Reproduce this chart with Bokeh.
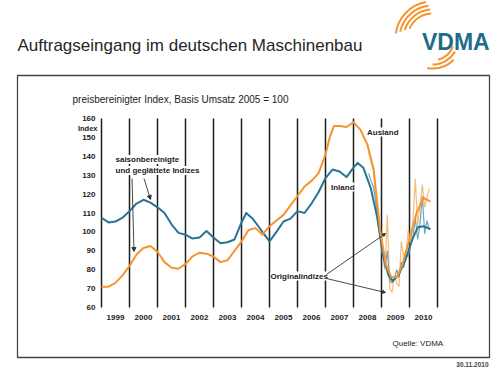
import numpy as np
from bokeh.plotting import figure
from bokeh.models import Range1d, FixedTicker, Label, Arrow, NormalHead
from bokeh.embed import file_html
from bokeh.resources import INLINE

# ---------------- data ----------------
year_labels = [str(y) for y in range(1999, 2011)]
year_edges = list(range(1999, 2012))
y_ticks = list(range(60, 161, 10))

# seasonally adjusted & smoothed indices (decimal years)
ausland_t = [1999.0, 1999.25, 1999.5, 1999.75, 2000.0, 2000.25, 2000.5, 2000.75,
             2001.0, 2001.25, 2001.5, 2001.75, 2002.0, 2002.25, 2002.5, 2002.75,
             2003.0, 2003.25, 2003.5, 2003.75, 2004.0, 2004.25, 2004.5, 2004.75,
             2005.0, 2005.25, 2005.5, 2005.75, 2006.0, 2006.25, 2006.5, 2006.75,
             2007.0, 2007.15, 2007.3, 2007.5, 2007.75, 2008.0, 2008.25, 2008.5, 2008.72,
             2008.95, 2009.15, 2009.35, 2009.55, 2009.75, 2010.0, 2010.25, 2010.5, 2010.75]
ausland_v = [71, 71, 73, 77, 82, 88, 91.5, 92.5,
             89.5, 84, 81, 80.5, 83, 87, 89, 88.5,
             87, 84, 85, 90, 95, 101, 102, 98.5,
             103, 106, 109, 114, 119, 124, 127, 131,
             141, 150, 156, 156, 155.5, 158, 154, 146, 133,
             101, 83, 76, 76, 83, 96, 110, 118, 116]

inland_t = [1999.0, 1999.25, 1999.5, 1999.75, 2000.0, 2000.25, 2000.5, 2000.75,
            2001.0, 2001.25, 2001.5, 2001.75, 2002.0, 2002.25, 2002.5, 2002.75,
            2003.0, 2003.25, 2003.5, 2003.75, 2004.0, 2004.17, 2004.4, 2004.6,
            2004.8, 2005.0, 2005.25, 2005.5, 2005.75, 2006.0, 2006.25, 2006.5,
            2006.75, 2007.0, 2007.25, 2007.5, 2007.75, 2008.0, 2008.15, 2008.35,
            2008.62, 2008.85, 2009.05, 2009.25, 2009.4, 2009.6, 2009.85, 2010.1,
            2010.3, 2010.5, 2010.75]
inland_v = [107.5, 105, 105.5, 107.5, 111, 115, 117, 115.5,
            113, 110, 104, 99.5, 98.5, 96.5, 97, 100.5,
            97, 94, 94.5, 96, 105, 110, 107, 103,
            99, 95, 100, 105.5, 107, 111, 110, 115,
            121, 128.5, 133, 132, 129, 134, 136.5, 134,
            123, 107.5, 88, 77, 74, 77, 85, 96,
            102.5, 103, 101.5]

# original (unadjusted) monthly indices
orig_months = ["2008-07", "2008-08", "2008-09", "2008-10", "2008-11", "2008-12",
               "2009-01", "2009-02", "2009-03", "2009-04", "2009-05", "2009-06",
               "2009-07", "2009-08", "2009-09", "2009-10", "2009-11", "2009-12",
               "2010-01", "2010-02", "2010-03", "2010-04", "2010-05", "2010-06",
               "2010-07", "2010-08", "2010-09"]
ausland_orig = [142, 137, 133, 119, 104, 97, 87, 80, 109, 70, 68, 77,
                73, 71, 95, 87, 90, 101, 94, 106, 128, 103, 114, 125,
                113, 118, 123]
inland_orig = [131, 127, 124, 116, 106, 96, 88, 81, 90, 74, 73, 75,
               80, 76, 84, 81, 88, 87, 93, 98, 107, 96, 104, 119,
               99, 106, 101]

orig_t = [int(m[:4]) + (int(m[5:]) - 0.5) / 12 for m in orig_months]

# ---------------- styling ----------------
ORANGE = "#F5952C"
ORANGE_L = "#F8B466"
TEAL = "#287593"
TEAL_L = "#5F9CB5"
VDMA_TEAL = "#1E6C8A"
FONT = "Liberation Sans"

W, H = 500, 380
# data-area geometry on the canvas (pixels)
FR_LEFT, FR_BOTTOM = 101.0, 307.0
PX_YEAR, PX_UNIT = 28.0, 1.89


def dx(px):
    return year_edges[0] + (px - FR_LEFT) / PX_YEAR


def dy(py):
    return y_ticks[0] + (FR_BOTTOM - py) / PX_UNIT


p = figure(width=W, height=H, x_range=Range1d(dx(0), dx(W)), y_range=Range1d(dy(H), dy(0)),
           output_backend="svg", toolbar_location=None,
           min_border_left=0, min_border_right=0, min_border_top=0, min_border_bottom=0)
p.outline_line_color = None
p.background_fill_color = "white"
p.border_fill_color = "white"
p.xgrid.grid_line_color = None
p.ygrid.grid_line_color = None

# axes pinned to the data area
p.xaxis.fixed_location = y_ticks[0]
p.yaxis.fixed_location = year_edges[0]
p.xaxis.ticker = FixedTicker(ticks=[y + 0.5 for y in range(1999, 2011)])
p.xaxis.major_label_overrides = {y + 0.5: lab for y, lab in zip(range(1999, 2011), year_labels)}
p.yaxis.ticker = FixedTicker(ticks=y_ticks)
for ax in (p.xaxis, p.yaxis):
    ax.axis_line_color = None
    ax.major_tick_line_color = None
    ax.minor_tick_line_color = None
    ax.major_tick_out = 0
    ax.major_tick_in = 0
    ax.major_label_text_font = FONT
    ax.major_label_text_font_size = "8px"
    ax.major_label_text_font_style = "bold"
    ax.major_label_text_color = "#222222"
p.xaxis.major_label_standoff = 7
p.yaxis.major_label_standoff = 6

# year separators
p.segment(x0=year_edges, y0=[y_ticks[0]] * len(year_edges), x1=year_edges,
          y1=[y_ticks[-1]] * len(year_edges), line_color="#1e1e1e", line_width=1.5)

# lines
p.line(orig_t, ausland_orig, line_color=ORANGE_L, line_width=1.2, line_alpha=0.9)
p.line(orig_t, inland_orig, line_color=TEAL_L, line_width=1.2, line_alpha=0.9)
p.line(inland_t, inland_v, line_color=TEAL, line_width=2, line_join="round")
p.line(ausland_t, ausland_v, line_color=ORANGE, line_width=2, line_join="round")

# outer frame box
p.quad(left=dx(17), right=dx(489), top=dy(75), bottom=dy(357), fill_color=None,
       line_color="#444444", line_width=1.3)

# logo arcs (radius in screen px, angles in degrees)
arc_r = [37, 33, 29, 25, 22, 26, 30]
arc_a0 = [100, 97, 95, 93, -75, -90, -100]
arc_a1 = [172, 168, 163, 157, -22, -30, -45]
p.arc(x=[dx(432)] * len(arc_r), y=[dy(38)] * len(arc_r), radius=arc_r, radius_units="screen",
      start_angle=np.radians(arc_a0), end_angle=np.radians(arc_a1),
      line_color=ORANGE, line_width=2)


def lab(x, y, text, size="8px", style="bold", align="left", baseline="middle",
        color="#222222", bg=None):
    p.add_layout(Label(x=x, y=y, text=text, text_font=FONT, text_font_size=size,
                       text_font_style=style, text_align=align, text_baseline=baseline,
                       text_color=color, background_fill_color=bg))


lab(dx(17), dy(45), "Auftragseingang im deutschen Maschinenbau", size="17px",
    style="normal", baseline="alphabetic", color="#262626")
lab(dx(421.5), dy(41.7), "VDMA", size="23px", baseline="alphabetic", color=VDMA_TEAL)
lab(dx(72), dy(99), "preisbereinigter Index, Basis Umsatz 2005 = 100", size="10px",
    style="normal")
lab(dx(97), dy(128), "Index", size="7.5px", align="right")
lab(dx(115), dy(159), "saisonbereinigte", bg="white")
lab(dx(115), dy(170), "und geglättete Indizes", bg="white")
lab(dx(366.5), dy(131.5), "Ausland", bg="white")
lab(dx(330.5), dy(186.5), "Inland", bg="white")
lab(dx(270), dy(275.5), "Originalindizes", bg="white")
lab(dx(392), dy(343), "Quelle: VDMA", style="normal")
lab(dx(488), dy(364), "30.11.2010", size="6.5px", align="right", color="#444444")

# arrows
for (x0, y0, x1, y1, hs) in [(131.5, 178, 133.5, 251, 4), (143.5, 178, 150, 199, 4),
                             (326, 274, 385, 233, 3), (326, 278, 385, 292, 3)]:
    p.add_layout(Arrow(x_start=dx(x0), y_start=dy(y0), x_end=dx(x1), y_end=dy(y1),
                       line_color="#333333", line_width=0.9,
                       end=NormalHead(size=hs, fill_color="#333333", line_color="#333333")))

open("out.html", "w").write(file_html(p, INLINE))
